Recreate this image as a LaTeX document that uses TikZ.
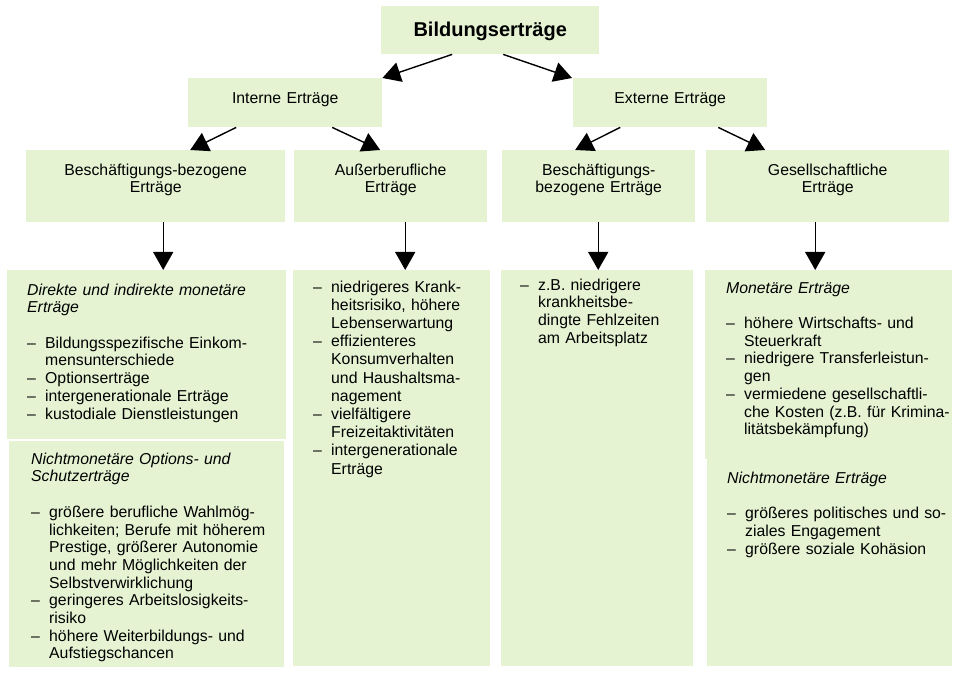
\documentclass[tikz,border=0pt]{standalone}
\usepackage{fontspec}
\setmainfont{Liberation Sans}
\usepackage{tikz}
\usetikzlibrary{arrows.meta}
\definecolor{hellgruen}{RGB}{229,243,211}
\newcommand{\kopf}[1]{\multicolumn{2}{@{}l@{}}{\itshape #1}}
\newenvironment{liste}{\begin{tabular}[t]{@{}p{18pt}@{}l@{}}}{\end{tabular}}

\begin{document}
\begin{tikzpicture}[x=1pt,y=-1pt,
  kasten/.style={fill=hellgruen, inner sep=0pt, anchor=north west, font=\fontsize{15.8}{17.7}\selectfont},
  titel/.style={kasten, align=center, text width=194pt, text height=25pt, text depth=24pt},
  ebene/.style={kasten, align=center, text width=#1, text height=25pt, text depth=47pt},
  inhalt/.style={kasten},
  pfeil/.style={-{Triangle[length=18pt,width=20pt]}, line width=1.4pt}]
\useasboundingbox (0,0) rectangle (961,676);
\node[kasten, align=center, text width=218pt, text height=30pt, text depth=18pt, font=\fontsize{20}{24}\selectfont\bfseries] (1) at (381,6) {Bildungserträge\hspace*{8pt}};
\node[titel] (2) at (188,78) {Interne Erträge};
\node[titel] (3) at (573,78) {Externe Erträge};
\node[ebene=259pt] (4) at (26,150) {Beschäftigungs-bezogene\\Erträge};
\node[ebene=193pt] (5) at (294,150) {Außerberufliche\\Erträge};
\node[ebene=193pt] (6) at (502,150) {Beschäftigungs-\\bezogene Erträge};
\node[ebene=243pt] (7) at (706,150) {Gesellschaftliche\\Erträge};
\node[inhalt, inner xsep=20pt, text width=239pt, text height=25pt, text depth=144pt] (8) at (7,270) {\begin{liste}
\kopf{Direkte und indirekte monetäre}\\
\kopf{Erträge}\\
 & \\
– & Bildungsspezifische Einkom-\\
 & mensunterschiede\\
– & Optionserträge\\
– & intergenerationale Erträge\\
– & kustodiale Dienstleistungen
\end{liste}};
\node[inhalt, inner xsep=22pt, text width=231pt, text height=23pt, text depth=203pt] (9) at (9,441) {\begin{liste}
\kopf{Nichtmonetäre Options- und}\\
\kopf{Schutzerträge}\\
 & \\
– & größere berufliche Wahlmög-\\
 & lichkeiten; Berufe mit höherem\\
 & Prestige, größerer Autonomie\\
 & und mehr Möglichkeiten der\\
 & Selbstverwirklichung\\
– & geringeres Arbeitslosigkeits-\\
 & risiko\\
– & höhere Weiterbildungs- und\\
 & Aufstiegschancen
\end{liste}};
\node[inhalt, inner xsep=20pt, text width=157pt, text height=22pt, text depth=374pt, font=\fontsize{15.8}{18.2}\selectfont] (10) at (293,270) {\begin{liste}
– & niedrigeres Krank-\\
 & heitsrisiko, höhere\\
 & Lebenserwartung\\
– & effizienteres\\
 & Konsumverhalten\\
 & und Haushaltsma-\\
 & nagement\\
– & vielfältigere\\
 & Freizeitaktivitäten\\
– & intergenerationale\\
 & Erträge
\end{liste}};
\node[inhalt, inner xsep=19pt, text width=154pt, text height=20pt, text depth=376pt] (11) at (501,270) {\begin{liste}
– & z.B. niedrigere\\
 & krankheitsbe-\\
 & dingte Fehlzeiten\\
 & am Arbeitsplatz
\end{liste}};
\node[inhalt, inner xsep=21pt, text width=205pt, text height=23pt, text depth=166pt] (12) at (705,270) {\begin{liste}
\kopf{Monetäre Erträge}\\
 & \\
– & höhere Wirtschafts- und\\
 & Steuerkraft\\
– & niedrigere Transferleistun-\\
 & gen\\
– & vermiedene gesellschaftli-\\
 & che Kosten (z.B. für Krimina-\\
 & litätsbekämpfung)
\end{liste}};
\node[inhalt, inner xsep=20pt, text width=205pt, text height=24pt, text depth=183pt] (13) at (707,459) {\begin{liste}
\kopf{Nichtmonetäre Erträge}\\
 & \\
– & größeres politisches und so-\\
 & ziales Engagement\\
– & größere soziale Kohäsion
\end{liste}};
\draw[pfeil] ([xshift=-38pt]1.south) -- (2.north east);
\draw[pfeil] ([xshift=13pt]1.south) -- ([xshift=-1pt]3.north west);
\draw[pfeil] ([xshift=-49pt]2.south) -- ([xshift=34.5pt]4.north);
\draw[pfeil] ([xshift=47pt]2.south) -- ([xshift=-10.5pt]5.north);
\draw[pfeil] ([xshift=-50pt]3.south) -- ([xshift=-23.5pt]6.north);
\draw[pfeil] ([xshift=48pt]3.south) -- ([xshift=-62.5pt]7.north);
\draw[pfeil] ([xshift=7.5pt]4.south) -- ([xshift=16.5pt]8.north);
\draw[pfeil] ([xshift=14.5pt]5.south) -- ([xshift=13.5pt]10.north);
\draw[pfeil] ([xshift=-0.5pt]6.south) -- ([xshift=1pt]11.north);
\draw[pfeil] ([xshift=-12.5pt]7.south) -- ([xshift=-13.5pt]12.north);
\end{tikzpicture}
\end{document}
